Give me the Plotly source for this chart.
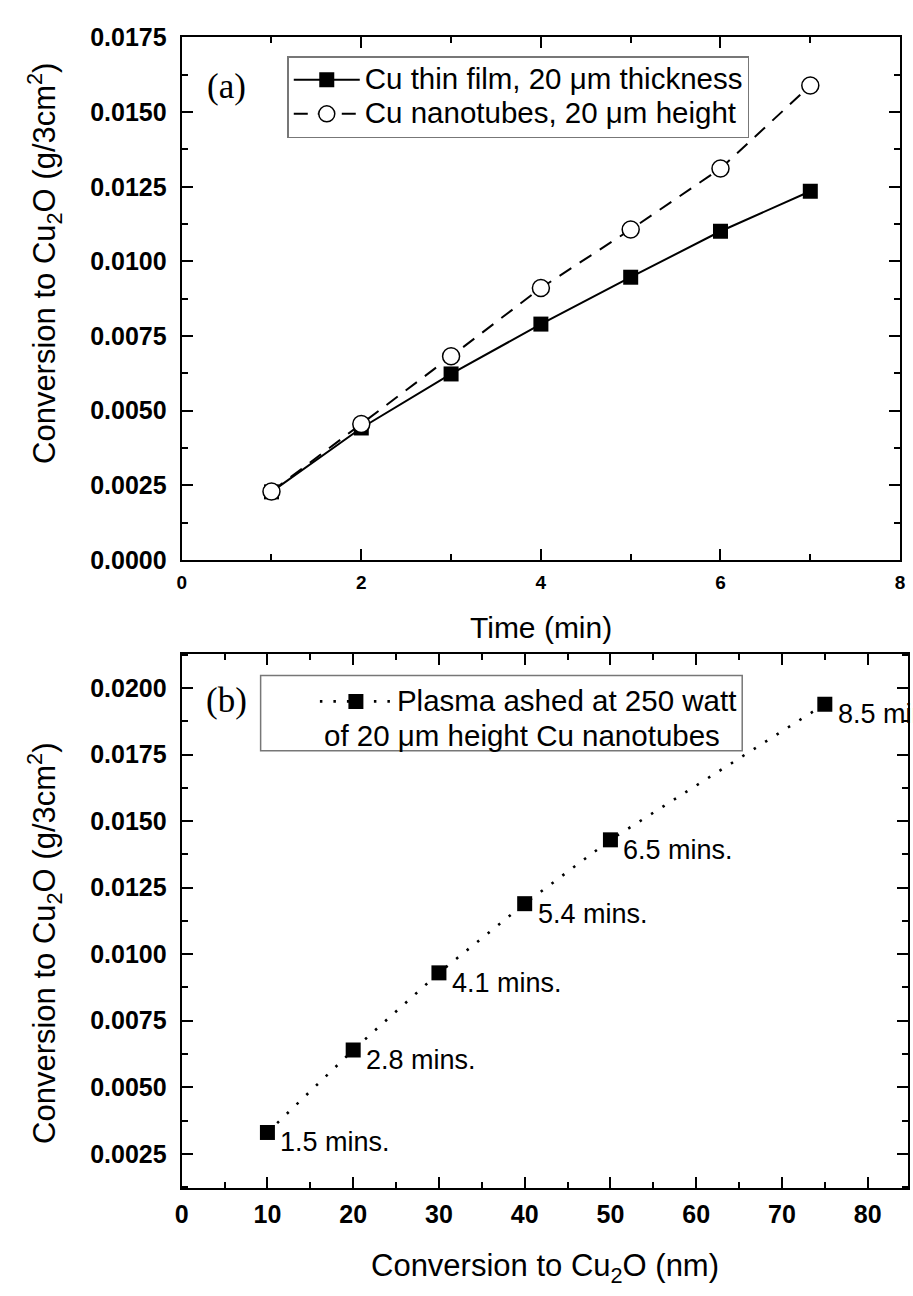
import plotly.graph_objects as go

# ---------------- data ----------------
time_min = [1, 2, 3, 4, 5, 6, 7]
cu_film = [0.00228, 0.00442, 0.00623, 0.00790, 0.00947, 0.01101, 0.01235]
cu_nanotubes = [0.00229, 0.00455, 0.00682, 0.00911, 0.01107, 0.01311, 0.01589]

conv_nm = [10, 20, 30, 40, 50, 75]
plasma_ashed = [0.0033, 0.0064, 0.0093, 0.0119, 0.0143, 0.0194]
ash_time_labels = ["1.5 mins.", "2.8 mins.", "4.1 mins.", "5.4 mins.", "6.5 mins.", "8.5 mins."]

W, H = 913, 1296
SANS = "Liberation Sans, Arial, sans-serif"
SERIF = "Liberation Serif, Times New Roman, serif"


def px(x):
    return x / W


def py(y):
    return 1 - y / H


def big(t, size=29.5):
    return f'<span style="font-size:{size}px">{t}</span>'


fig = go.Figure()

fig.add_trace(go.Scatter(
    x=time_min, y=cu_film, mode="lines+markers",
    name=big("Cu thin film, 20 μm thickness"),
    line=dict(color="black", width=2),
    marker=dict(symbol="square", size=15, color="black"),
    xaxis="x", yaxis="y", legend="legend"))
fig.add_trace(go.Scatter(
    x=time_min, y=cu_nanotubes, mode="lines+markers",
    name=big("Cu nanotubes, 20 μm height"),
    line=dict(color="black", width=2, dash="14px,10px"),
    marker=dict(symbol="circle", size=17, color="white", line=dict(color="black", width=1.5)),
    xaxis="x", yaxis="y", legend="legend"))
fig.add_trace(go.Scatter(
    x=conv_nm, y=plasma_ashed, mode="lines+markers",
    name=big("Plasma ashed at 250 watt"),
    line=dict(color="black", width=2.6, dash="2.5px,11px"),
    marker=dict(symbol="square", size=15, color="black"),
    xaxis="x2", yaxis="y2", legend="legend2"))

axis_common = dict(
    showline=True, linecolor="black", linewidth=2, mirror="ticks",
    ticks="inside", ticklen=11, tickwidth=2, tickcolor="black",
    showgrid=False, zeroline=False,
    tickfont=dict(family=SANS, size=25, color="black", weight="bold"),
)
minor_common = dict(ticks="inside", ticklen=6, tickwidth=2, tickcolor="black")

fig.update_layout(
    width=W, height=H,
    margin=dict(l=0, r=0, t=0, b=0),
    paper_bgcolor="white", plot_bgcolor="white",
    xaxis=dict(axis_common, domain=[px(177), px(905)], anchor="y",
               range=[0, 8], dtick=2, tick0=0, ticklabelstandoff=4,
               tickfont=dict(family=SANS, size=19, color="black", weight="bold"),
               minor=dict(minor_common, dtick=1)),
    yaxis=dict(axis_common, domain=[py(558), py(24)], anchor="x",
               range=[0, 0.0175], dtick=0.0025, tickformat=".4f",
               ticklabelstandoff=8,
               minor=dict(minor_common, dtick=0.00125)),
    xaxis2=dict(axis_common, domain=[px(177), 1.0], anchor="y2",
                range=[0, 84.7], dtick=10, tick0=0, ticklabelstandoff=3,
                minor=dict(minor_common, dtick=5)),
    yaxis2=dict(axis_common, domain=[py(1200), py(654)], anchor="x2",
                range=[0.00121, 0.02129], dtick=0.0025, tick0=0, tickformat=".4f",
                ticklabelstandoff=8,
                minor=dict(minor_common, dtick=0.00125, tick0=0)),
    legend=dict(x=px(284), y=py(43), xanchor="left", yanchor="top",
                bgcolor="white", bordercolor="#777", borderwidth=1.5,
                font=dict(family=SANS, size=24, color="black"),
                itemwidth=66, tracegroupgap=0, itemsizing="trace"),
    legend2=dict(x=px(312), y=py(680), xanchor="left", yanchor="top",
                 bgcolor="rgba(0,0,0,0)", borderwidth=0,
                 font=dict(family=SANS, size=24, color="black"),
                 itemwidth=72),
    showlegend=True,
)

# legend (b) frame
fig.add_shape(type="rect", xref="paper", yref="paper",
              x0=px(257), x1=px(745), y0=py(753), y1=py(676),
              line=dict(color="#777", width=1.5), fillcolor="rgba(0,0,0,0)", layer="above")

annotations = [
    dict(text="of 20 μm height Cu nanotubes", x=px(319), y=py(737), xref="paper", yref="paper",
         xanchor="left", yanchor="middle", showarrow=False,
         font=dict(family=SANS, size=29.5, color="black")),
    dict(text="(a)", x=px(222), y=py(74), xref="paper", yref="paper",
         xanchor="center", yanchor="middle", showarrow=False,
         font=dict(family=SERIF, size=35, color="black")),
    dict(text="(b)", x=px(222), y=py(702), xref="paper", yref="paper",
         xanchor="center", yanchor="middle", showarrow=False,
         font=dict(family=SERIF, size=35, color="black")),
    dict(text="Time (min)", x=px(541), y=py(627), xref="paper", yref="paper",
         xanchor="center", yanchor="middle", showarrow=False,
         font=dict(family=SANS, size=30, color="black")),
    dict(text="Conversion to Cu<sub>2</sub>O (nm)", x=px(545), y=py(1282), xref="paper", yref="paper",
         xanchor="center", yanchor="middle", showarrow=False,
         font=dict(family=SANS, size=31, color="black")),
    dict(text="Conversion to Cu<sub>2</sub>O (g/3cm<sup>2</sup>)", x=px(38), y=py(255), xref="paper", yref="paper",
         xanchor="center", yanchor="middle", textangle=-90, showarrow=False,
         font=dict(family=SANS, size=31, color="black")),
    dict(text="Conversion to Cu<sub>2</sub>O (g/3cm<sup>2</sup>)", x=px(38), y=py(950), xref="paper", yref="paper",
         xanchor="center", yanchor="middle", textangle=-90, showarrow=False,
         font=dict(family=SANS, size=31, color="black")),
]
for xv, yv, lab in zip(conv_nm, plasma_ashed, ash_time_labels):
    annotations.append(dict(text=lab, x=xv, y=yv, xref="x2", yref="y2",
                            xanchor="left", yanchor="middle", xshift=11, yshift=-10,
                            showarrow=False, font=dict(family=SANS, size=27, color="black")))
fig.update_layout(annotations=annotations)

fig.write_html("out.html")
